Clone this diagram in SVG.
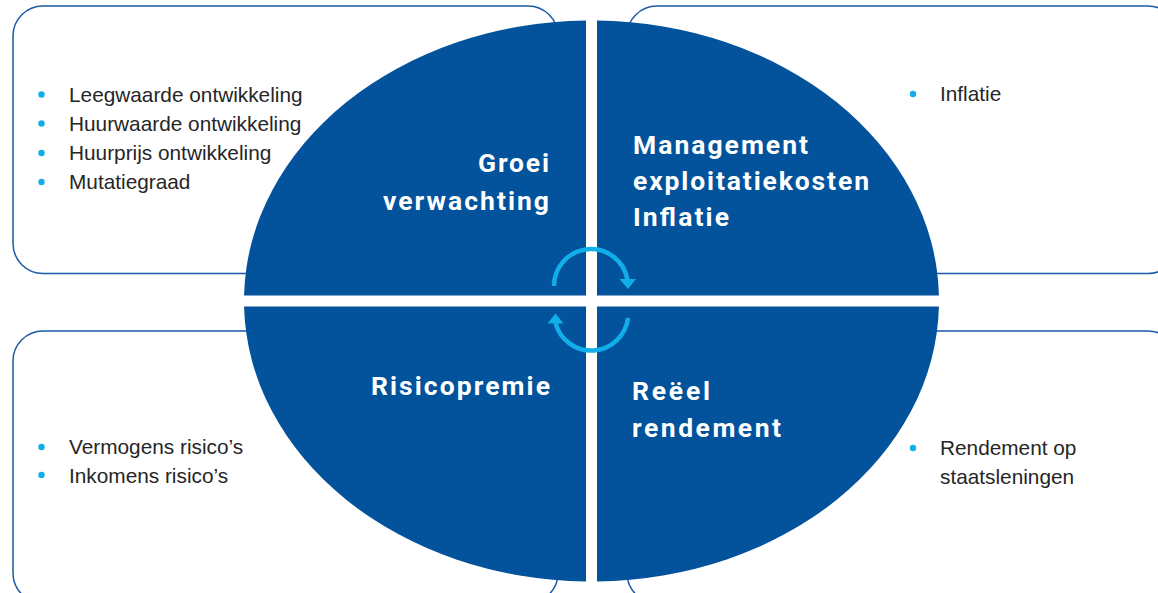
<svg xmlns="http://www.w3.org/2000/svg" width="1158" height="593" viewBox="0 0 1158 593">
  <style>
    .box { fill: #ffffff; stroke: #1b5aa5; stroke-width: 1.5; }
    .quad { fill: #02539b; }
    .list { font-family: "Liberation Sans", Arial, sans-serif; font-size: 20.8px; fill: #262626; }
    .bullet { fill: #11aeea; }
    .label { font-family: Roboto, "DejaVu Sans", sans-serif; font-weight: bold; font-size: 26.5px; fill: #ffffff; }
    .cyc { fill: none; stroke: #11aeea; stroke-width: 4.5; }
    .cychead { fill: #11aeea; }
  </style>

  <!-- Outer boxes -->
  <g id="box-top-left">
    <rect class="box" x="13" y="6" width="545" height="267.5" rx="30" ry="30"/>
    <circle class="bullet" cx="41.5" cy="94.5" r="3.2"/>
    <circle class="bullet" cx="41.5" cy="123.5" r="3.2"/>
    <circle class="bullet" cx="41.5" cy="153" r="3.2"/>
    <circle class="bullet" cx="41.5" cy="182" r="3.2"/>
    <text class="list" x="69" y="101.5">Leegwaarde ontwikkeling</text>
    <text class="list" x="69" y="130.5">Huurwaarde ontwikkeling</text>
    <text class="list" x="69" y="160">Huurprijs ontwikkeling</text>
    <text class="list" x="69" y="189">Mutatiegraad</text>
  </g>
  <g id="box-top-right">
    <rect class="box" x="627" y="6" width="551" height="267.5" rx="30" ry="30"/>
    <circle class="bullet" cx="913" cy="94" r="3.2"/>
    <text class="list" x="940" y="101">Inflatie</text>
  </g>
  <g id="box-bottom-left">
    <rect class="box" x="13" y="331" width="545" height="272" rx="30" ry="30"/>
    <circle class="bullet" cx="41.5" cy="447" r="3.2"/>
    <circle class="bullet" cx="41.5" cy="475" r="3.2"/>
    <text class="list" x="69" y="454">Vermogens risico’s</text>
    <text class="list" x="69" y="482.5">Inkomens risico’s</text>
  </g>
  <g id="box-bottom-right">
    <rect class="box" x="627" y="331" width="551" height="272" rx="30" ry="30"/>
    <circle class="bullet" cx="913" cy="448" r="3.2"/>
    <text class="list" x="940" y="455">Rendement op</text>
    <text class="list" x="940" y="484">staatsleningen</text>
  </g>

  <!-- Ellipse quadrants -->
  <g id="quad-groei">
    <path class="quad" d="M586,295.5 L244.07,295.5 A347.5,280.5 0 0 1 586,20.54 Z"/>
    <text class="label" x="549" y="172" text-anchor="end" textLength="71" lengthAdjust="spacing">Groei</text>
    <text class="label" x="549" y="210" text-anchor="end" textLength="166" lengthAdjust="spacing">verwachting</text>
  </g>
  <g id="quad-management">
    <path class="quad" d="M597,295.5 L597,20.54 A347.5,280.5 0 0 1 938.93,295.5 Z"/>
    <text class="label" x="633" y="154" textLength="175" lengthAdjust="spacing">Management</text>
    <text class="label" x="633" y="190" textLength="236" lengthAdjust="spacing">exploitatiekosten</text>
    <text class="label" x="633" y="226" textLength="96" lengthAdjust="spacing">Inflatie</text>
  </g>
  <g id="quad-risicopremie">
    <path class="quad" d="M586,306.5 L586,581.47 A347.5,280.5 0 0 1 244.07,306.5 Z"/>
    <text class="label" x="550" y="395" text-anchor="end" textLength="179" lengthAdjust="spacing">Risicopremie</text>
  </g>
  <g id="quad-reeel">
    <path class="quad" d="M597,306.5 L938.93,306.5 A347.5,280.5 0 0 1 597,581.47 Z"/>
    <text class="label" x="632" y="400" textLength="78" lengthAdjust="spacing">Reëel</text>
    <text class="label" x="632" y="437" textLength="149" lengthAdjust="spacing">rendement</text>
  </g>

  <!-- Cycle arrows -->
  <g id="connectors">
    <path class="cyc" d="M554,286 A37,37 0 0 1 627.5,280"/>
    <polygon class="cychead" points="619.5,279 636,279 628,289"/>
    <path class="cyc" d="M628,318 A37,37 0 0 1 555.5,323"/>
    <polygon class="cychead" points="547.5,323.5 563.5,323.5 555.5,313.5"/>
  </g>
</svg>
